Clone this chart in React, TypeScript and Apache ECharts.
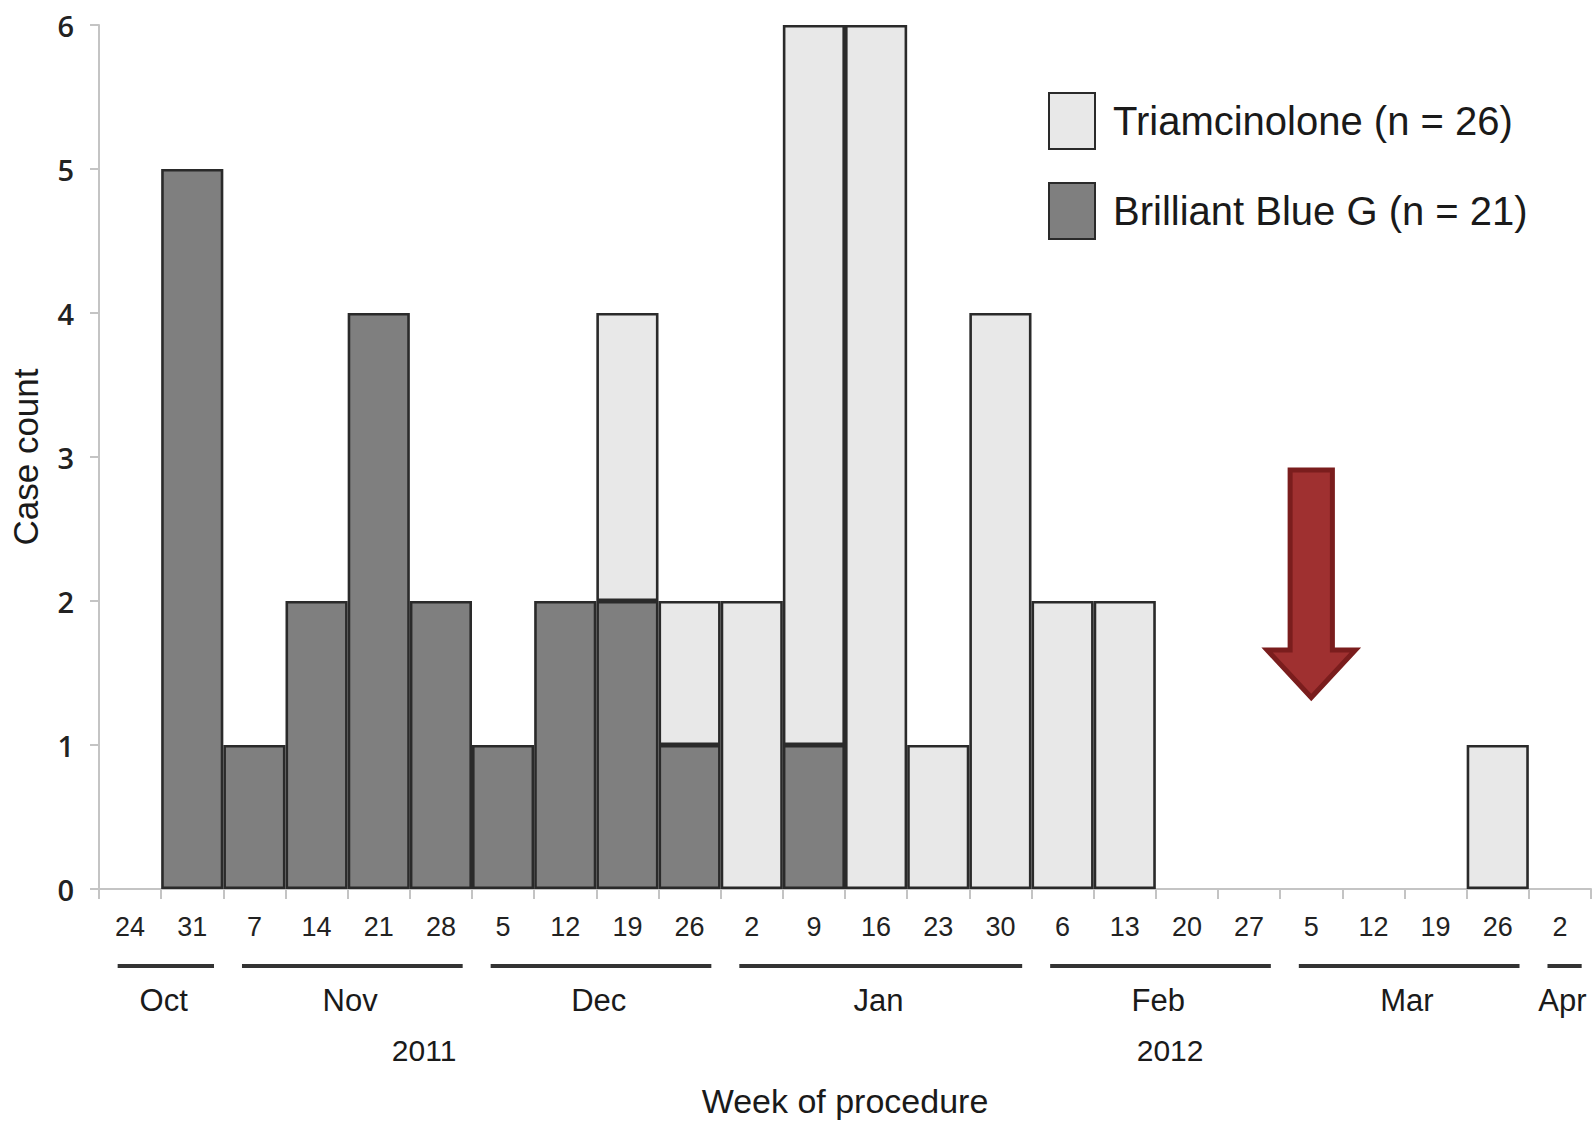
import React, { useEffect, useRef } from "react";
import * as echarts from "echarts";

// Week start dates (categories)
const weekStarts = [
  "2011-10-24", "2011-10-31",
  "2011-11-07", "2011-11-14", "2011-11-21", "2011-11-28",
  "2011-12-05", "2011-12-12", "2011-12-19", "2011-12-26",
  "2012-01-02", "2012-01-09", "2012-01-16", "2012-01-23", "2012-01-30",
  "2012-02-06", "2012-02-13", "2012-02-20", "2012-02-27",
  "2012-03-05", "2012-03-12", "2012-03-19", "2012-03-26",
  "2012-04-02",
];

// Case counts per week
const brilliantBlueG = [0, 5, 1, 2, 4, 2, 1, 2, 2, 1, 0, 1, 0, 0, 0, 0, 0, 0, 0, 0, 0, 0, 0, 0];
const triamcinolone = [0, 0, 0, 0, 0, 0, 0, 0, 2, 1, 2, 5, 6, 1, 4, 2, 2, 0, 0, 0, 0, 0, 1, 0];

const monthNames = ["Jan", "Feb", "Mar", "Apr", "May", "Jun", "Jul", "Aug", "Sep", "Oct", "Nov", "Dec"];
const yearAnchors = [
  { year: "2011", week: 5 },
  { year: "2012", week: 17 },
];
// red arrow (week index, top value, head base value, tip value)
const arrowMark = [[19, 2.91, 1.66, 1.33]];

const FONT = "'Liberation Sans', Arial, Helvetica, sans-serif";

function monthGroups() {
  const groups: { name: string; first: number; last: number }[] = [];
  weekStarts.forEach((d, i) => {
    const m = Number(d.slice(5, 7));
    const name = monthNames[m - 1];
    const g = groups[groups.length - 1];
    if (g && g.name === name) g.last = i;
    else groups.push({ name, first: i, last: i });
  });
  return groups;
}

const sum = (a: number[]) => a.reduce((s, v) => s + v, 0);

export default function App() {
  const ref = useRef<HTMLDivElement>(null);

  useEffect(() => {
    document.body.style.margin = "0";
    if (!ref.current) return;
    const chart = echarts.init(ref.current, undefined, { renderer: "svg" });
    const groups = monthGroups();
    const taName = `Triamcinolone (n = ${sum(triamcinolone)})`;
    const bbgName = `Brilliant Blue G (n = ${sum(brilliantBlueG)})`;
    const z2n = (a: number[]) => a.map((v) => (v === 0 ? null : v));

    const barStyle = (color: string) => ({
      color,
      borderColor: "#2a2a2a",
      borderWidth: 2.6,
    });

    chart.setOption({
      animation: false,
      backgroundColor: "#ffffff",
      grid: { left: 97, top: 25, width: 1494, height: 864, containLabel: false },
      legend: {
        orient: "vertical",
        left: 1048,
        top: 92,
        itemWidth: 46,
        itemHeight: 56,
        itemGap: 32,
        padding: 0,
        icon: "rect",
        data: [taName, bbgName],
        textStyle: {
          fontSize: 40,
          fontFamily: FONT,
          color: "#1a1a1a",
          padding: [0, 0, 0, 13],
        },
        selectedMode: false,
      },
      xAxis: {
        type: "category",
        data: weekStarts,
        boundaryGap: true,
        axisLine: { show: true, lineStyle: { color: "#c4c4c4", width: 2 } },
        axisTick: { show: true, interval: 0, length: 10, lineStyle: { color: "#c4c4c4", width: 2 } },
        axisLabel: {
          interval: 0,
          margin: 24,
          fontSize: 27,
          fontFamily: FONT,
          color: "#222",
          formatter: (v: string) => String(Number(v.slice(8, 10))),
        },
        name: "Week of procedure",
        nameLocation: "middle",
        nameGap: 195,
        nameTextStyle: { fontSize: 34, fontFamily: FONT, color: "#1a1a1a" },
        splitLine: { show: false },
      },
      yAxis: {
        type: "value",
        min: 0,
        max: 6,
        interval: 1,
        axisLine: { show: true, lineStyle: { color: "#c4c4c4", width: 2 } },
        axisTick: { show: true, length: 9, lineStyle: { color: "#c4c4c4", width: 2 } },
        axisLabel: {
          margin: 25,
          fontSize: 29,
          fontWeight: 600,
          fontFamily: "'Open Sans', sans-serif",
          color: "#222",
        },
        splitLine: { show: false },
        name: "Case count",
        nameLocation: "middle",
        nameGap: 56,
        nameTextStyle: { fontSize: 35, fontFamily: FONT, color: "#1a1a1a" },
      },
      series: [
        {
          name: bbgName,
          type: "bar",
          stack: "cases",
          barCategoryGap: "0%",
          data: z2n(brilliantBlueG),
          itemStyle: barStyle("#7f7f7f"),
        },
        {
          name: taName,
          type: "bar",
          stack: "cases",
          barCategoryGap: "0%",
          data: z2n(triamcinolone),
          itemStyle: barStyle("#e8e8e8"),
        },
        {
          type: "custom",
          name: "months",
          clip: false,
          silent: true,
          encode: { x: [0, 1], y: 2 },
          data: groups.map((g) => [g.first, g.last, 0]),
          renderItem: (params: any, api: any) => {
            const g = groups[params.dataIndex];
            const p0 = api.coord([g.first, 0]);
            const p1 = api.coord([g.last, 0]);
            const bw = api.size([1, 0])[0];
            const base = p0[1];
            const x0 = p0[0] - bw / 2 + 0.3 * bw;
            const x1 = p1[0] + bw / 2 - 0.15 * bw;
            return {
              type: "group",
              children: [
                {
                  type: "line",
                  shape: { x1: x0, y1: base + 77, x2: x1, y2: base + 77 },
                  style: { stroke: "#333", lineWidth: 4 },
                },
                {
                  type: "text",
                  style: {
                    text: g.name,
                    x: (p0[0] + p1[0]) / 2 + 0.04 * bw,
                    y: base + 111,
                    align: "center",
                    verticalAlign: "middle",
                    fontSize: 31,
                    fontFamily: FONT,
                    fill: "#1a1a1a",
                  },
                },
              ],
            };
          },
        },
        {
          type: "custom",
          name: "years",
          clip: false,
          silent: true,
          encode: { x: 0, y: 1 },
          data: yearAnchors.map((y) => [y.week, 0]),
          renderItem: (params: any, api: any) => {
            const a = yearAnchors[params.dataIndex];
            const p = api.coord([a.week, 0]);
            const bw = api.size([1, 0])[0];
            return {
              type: "text",
              style: {
                text: a.year,
                x: p[0] - 0.27 * bw,
                y: p[1] + 161,
                align: "center",
                verticalAlign: "middle",
                fontSize: 30,
                fontFamily: FONT,
                fill: "#1a1a1a",
              },
            };
          },
        },
        {
          type: "custom",
          name: "arrow",
          clip: false,
          silent: true,
          encode: { x: 0, y: [1, 2, 3] },
          data: arrowMark,
          renderItem: (params: any, api: any) => {
            const w = api.value(0);
            const top = api.coord([w, api.value(1)]);
            const hb = api.coord([w, api.value(2)]);
            const tip = api.coord([w, api.value(3)]);
            const bw = api.size([1, 0])[0];
            const cx = top[0];
            const sw = 0.34 * bw;
            const hw = 0.71 * bw;
            return {
              type: "polygon",
              shape: {
                points: [
                  [cx - sw, top[1]],
                  [cx + sw, top[1]],
                  [cx + sw, hb[1]],
                  [cx + hw, hb[1]],
                  [cx, tip[1]],
                  [cx - hw, hb[1]],
                  [cx - sw, hb[1]],
                ],
              },
              style: { fill: "#9f3030", stroke: "#7a1d1d", lineWidth: 5, lineJoin: "miter" },
            };
          },
        },
      ],
    });

    return () => chart.dispose();
  }, []);

  return <div ref={ref} style={{ width: 1595, height: 1124 }} />;
}
